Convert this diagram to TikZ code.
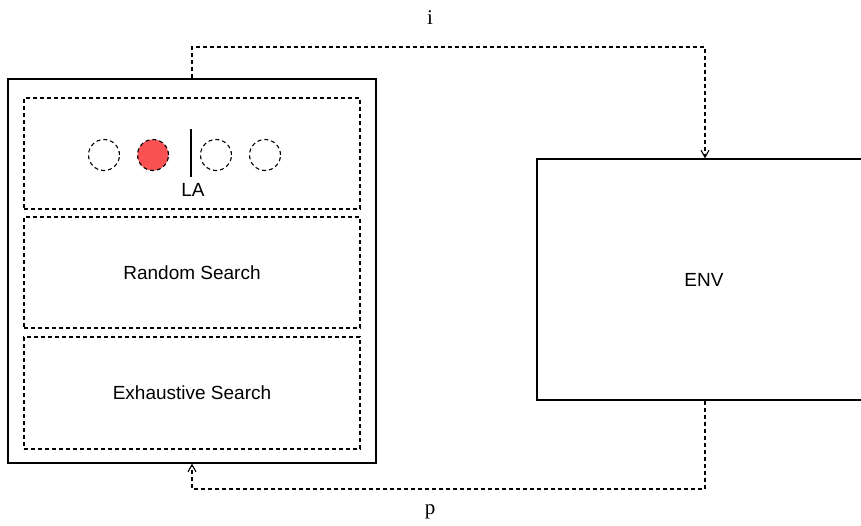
\documentclass[tikz,border=0pt]{standalone}
\usepackage{fontspec}
\setmainfont{Liberation Sans}
\newfontfamily\seriffam{Liberation Serif}
\usetikzlibrary{arrows.meta}
\definecolor{dotred}{RGB}{250,82,82}
\begin{document}
\begin{tikzpicture}[x=1pt,y=-1pt,
  solidbox/.style={draw,line width=1.3pt,inner sep=0pt},
  dashbox/.style={draw,line width=1.1pt,dash pattern=on 4pt off 3pt,inner sep=0pt,
     minimum width=336pt,minimum height=111pt,font=\fontsize{19}{22}\selectfont},
  dot/.style={circle,draw,line width=1.1pt,dash pattern=on 4pt off 3pt,minimum size=31pt,inner sep=0pt},
  flow/.style={draw,line width=1.1pt,dash pattern=on 4pt off 3pt,-{Straight Barb[length=7pt,width=8pt,line width=1.1pt]}},
  lbl/.style={font=\fontsize{19}{22}\selectfont,inner sep=0pt},
  serlbl/.style={font=\seriffam\fontsize{21}{24}\selectfont,inner sep=0pt}]
\clip (0,0) rectangle (861,525);
\useasboundingbox (0,0) rectangle (861,525);
% left container
\node[solidbox,minimum width=368pt,minimum height=384pt] (outer) at (192,271) {};
\node[dashbox] (labox) at (192,153.5) {};
\node[dashbox] (rs) at (192,272.5) {Random Search};
\node[dashbox,minimum height=112pt] (es) at (192,393) {Exhaustive Search};
% automaton states
\node[dot] (s1) at (104,155) {};
\node[dot,fill=dotred] (s2) at (153,155) {};
\node[dot] (s3) at (216,155) {};
\node[dot] (s4) at (265,155) {};
\coordinate (bartop) at (191,129);
\coordinate (barbot) at (191,177);
\draw[line width=1.5pt] (bartop) -- (barbot);
\node[lbl] (la) at (193,190) {LA};
% environment
\node[solidbox,minimum width=336pt,minimum height=241pt] (env) at (705,279.5) {};
\node[lbl] (envlbl) at (704,280) {ENV};
% connectors
\coordinate (tl) at (192,47);
\coordinate (tr) at (705,47);
\coordinate (bl) at (192,489);
\coordinate (br) at (705,489);
\draw[flow] (outer.north) -- (tl) -- (tr) -- (env.north);
\draw[flow] (env.south) -- (br) -- (bl) -- (outer.south);
\node[serlbl] (ilbl) at (430,18) {i};
\node[serlbl] (plbl) at (430,512) {p};
\end{tikzpicture}
\end{document}
